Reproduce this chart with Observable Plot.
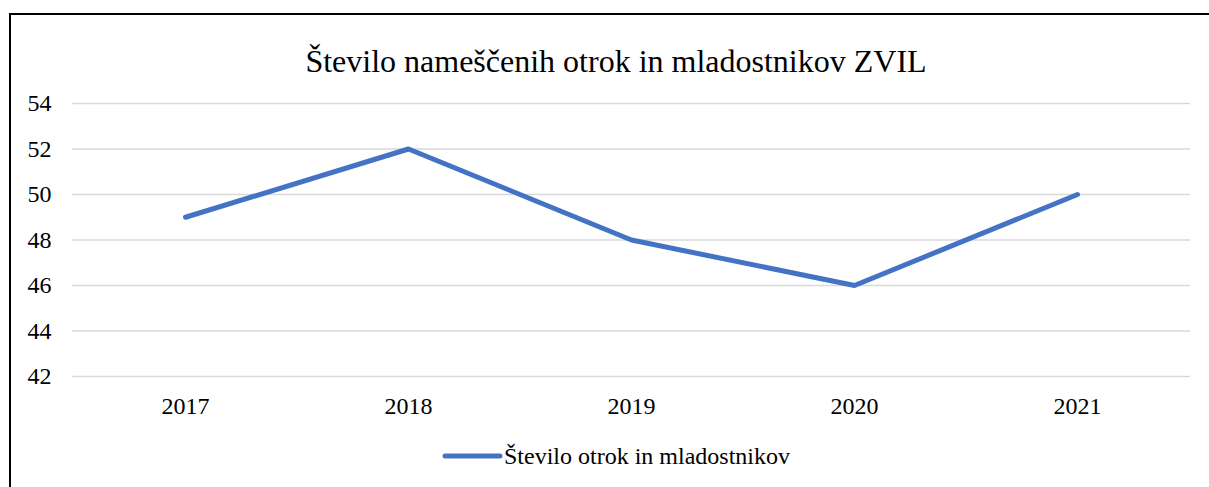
<!DOCTYPE html>
<html>
<head>
<meta charset="utf-8">
<script src="https://cdn.jsdelivr.net/npm/d3@7"></script>
<script src="https://cdn.jsdelivr.net/npm/@observablehq/plot@0.6"></script>
<style>
  html, body { margin: 0; padding: 0; background: #fff; }
  #wrap { position: relative; width: 1209px; height: 487px; overflow: hidden; background: #fff;
          font-family: "Liberation Serif", "Times New Roman", serif; color: #000; }
  #frame { position: absolute; left: 9px; top: 13px; width: 1300px; height: 600px;
           border-left: 2px solid #000; border-top: 2px solid #000; box-sizing: border-box; }
  #title { position: relative; height: 80px; width: 1232px; text-align: center; }
  #title span { position: absolute; left: 0; right: 0; top: 45px; font-size: 32px; line-height: 1; }
  #chart { position: relative; height: 350px; }
  #legend { position: relative; height: 57px; }
  #legend svg { position: absolute; left: 440px; top: 20px; }
  #legend span { position: absolute; left: 504px; top: 14px; font-size: 24px; line-height: 1; white-space: nowrap; }
</style>
</head>
<body>
<div id="wrap">
  <div id="frame"></div>
  <div id="title"><span>Število nameščenih otrok in mladostnikov ZVIL</span></div>
  <div id="chart"></div>
  <div id="legend">
    <svg width="70" height="12"><line x1="5" y1="6" x2="60" y2="6" stroke="#4472C4" stroke-width="5" stroke-linecap="round"/></svg>
    <span>Število otrok in mladostnikov</span>
  </div>
</div>
<script>
const years = ["2017", "2018", "2019", "2020", "2021"];
const values = [49, 52, 48, 46, 50];
const yTicks = [42, 44, 46, 48, 50, 52, 54];
const seriesName = "Število otrok in mladostnikov";

const data = years.map((y, i) => ({year: y, value: values[i], series: seriesName}));

const chart = Plot.plot({
  width: 1209,
  height: 350,
  marginTop: 23,
  marginBottom: 54,
  marginLeft: 72,
  marginRight: 19,
  style: {fontFamily: '"Liberation Serif", "Times New Roman", serif', fontSize: "24px", color: "#000", background: "transparent", overflow: "visible"},
  x: {type: "point", domain: years, padding: 0.5, label: null},
  y: {domain: [42, 54], ticks: yTicks, label: null},
  marks: [
    Plot.ruleY(yTicks, {stroke: "#d9d9d9", strokeWidth: 1.5}),
    Plot.axisY({ticks: yTicks, tickSize: 0, tickPadding: 21, label: null, fontSize: 24}),
    Plot.axisX({tickSize: 0, tickPadding: 20, label: null, fontSize: 24}),
    Plot.line(data, {x: "year", y: "value", stroke: "#4472C4", strokeWidth: 5, strokeLinecap: "round", strokeLinejoin: "round"})
  ]
});
document.getElementById("chart").appendChild(chart);
</script>
</body>
</html>
